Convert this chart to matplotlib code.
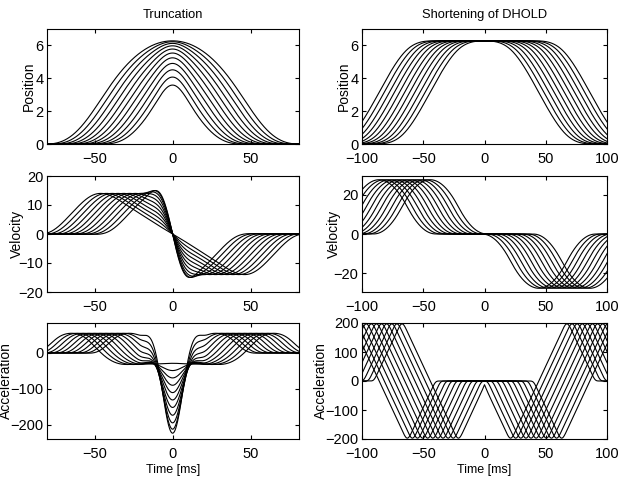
import numpy as np
import matplotlib
matplotlib.use("Agg")
import matplotlib.pyplot as plt

plt.rcParams['font.family'] = ['Liberation Sans', 'DejaVu Sans']

# ---- Truncation (left column) ----
# acceleration template of one movement, knots (ms, value)
trunc_acc_knots_t = [0, 8, 27, 33, 38, 44, 78, 86]
trunc_acc_knots_a = [0, 50, 50, 0, 0, -32, -32, 0]
# start of each movement (ms); movement is cut at t = 0 and mirrored
trunc_starts = [-82.0, -78.3, -74.6, -70.9, -67.2, -63.5, -59.8, -56.1, -52.4, -48.7, -45.0]
trunc_vel_peak = 14.0
trunc_pos_peak = 6.28
lanczos_T = 11.5

# ---- Shortening of DHOLD (right column) ----
dhold_acc_knots_t = [0, 22, 24, 68, 70, 92]
dhold_acc_knots_a = [0, 200, 200, -200, -200, 0]
dhold_ms = [80.0, 71.7, 63.3, 55.0, 46.7, 38.3, 30.0, 21.7, 13.3, 5.0, -3.4]
dhold_vel_peak = 27.7
dhold_pos_peak = 6.28

dt = 0.1
t = np.arange(-150, 150 + dt / 2, dt)
n0 = len(t) // 2  # index of t = 0


def mirror_odd(v):
    out = v.copy()
    out[n0 + 1:] = -v[:n0][::-1]
    out[n0] = 0.0
    return out


def mirror_even(a):
    out = a.copy()
    out[n0 + 1:] = a[:n0][::-1]
    return out


def truncation_curves():
    tk = np.arange(-2 * lanczos_T, 2 * lanczos_T + dt / 2, dt)
    kern = np.sinc(tk / lanczos_T) * np.sinc(tk / (2 * lanczos_T))
    kern /= kern.sum()
    vel, acc, pos = [], [], []
    for s in trunc_starts:
        a = np.interp(t - s, trunc_acc_knots_t, trunc_acc_knots_a, left=0, right=0)
        a[t >= 0] = 0
        v = np.cumsum(a) * dt
        v[t >= 0] = 0
        v = mirror_odd(v)
        v = np.convolve(v, kern, mode='same')
        acc.append(np.gradient(v, dt))
        vel.append(v)
        pos.append(np.cumsum(v) * dt)
    vs = trunc_vel_peak / np.max(vel[0])
    ps = trunc_pos_peak / np.max(pos[0])
    return [v * vs for v in vel], acc, [p * ps for p in pos]


def dhold_curves():
    tk = np.arange(-5, 5 + dt / 2, dt)
    kern = np.exp(-0.5 * (tk / 1.3) ** 2)
    kern /= kern.sum()
    vel, acc, pos = [], [], []
    for h in dhold_ms:
        start = -h / 2 - dhold_acc_knots_t[-1]
        a = np.interp(t - start, dhold_acc_knots_t, dhold_acc_knots_a, left=0, right=0)
        a[t >= 0] = 0
        a = np.convolve(a, kern, mode='same')
        v = np.cumsum(a) * dt
        a = mirror_even(a)
        v = mirror_odd(v)
        acc.append(a)
        vel.append(v)
        pos.append(np.cumsum(v) * dt)
    vs = dhold_vel_peak / np.max(vel[0])
    ps = dhold_pos_peak / np.max(pos[0])
    return [v * vs for v in vel], acc, [p * ps for p in pos]


tv, ta, tp = truncation_curves()
dv, da, dp = dhold_curves()

fig = plt.figure(figsize=(6.18, 4.79), dpi=100)
W, H = 618.0, 479.0
cols = [(47, 299), (362, 607)]
rows = [(29, 144), (176, 292), (323, 439)]


def make_ax(c, r):
    x0, x1 = cols[c]
    y0, y1 = rows[r]
    ax = fig.add_axes([x0 / W, 1 - y1 / H, (x1 - x0) / W, (y1 - y0) / H])
    ax.tick_params(direction='in', top=True, right=True, length=3, width=0.8,
                   labelsize=10.5)
    ax.tick_params(axis='x', pad=5.5)
    ax.tick_params(axis='y', pad=2.5)
    for sp in ax.spines.values():
        sp.set_linewidth(0.8)
    return ax


lw = 0.8
axes = [[make_ax(c, r) for c in range(2)] for r in range(3)]

left_sets = [tp, tv, ta]
right_sets = [dp, dv, da]
for r in range(3):
    for y in left_sets[r]:
        axes[r][0].plot(t, y, color='black', lw=lw)
    for y in right_sets[r]:
        axes[r][1].plot(t, y, color='black', lw=lw)

for r in range(3):
    axes[r][0].set_xlim(-80.5, 81)
    axes[r][0].set_xticks([-50, 0, 50])
    axes[r][1].set_xlim(-100, 100)
    axes[r][1].set_xticks([-100, -50, 0, 50, 100])

axes[0][0].set_ylim(0, 7)
axes[0][1].set_ylim(0, 7)
axes[0][0].set_yticks([0, 2, 4, 6])
axes[0][1].set_yticks([0, 2, 4, 6])
axes[1][0].set_ylim(-20, 20)
axes[1][0].set_yticks([-20, -10, 0, 10, 20])
axes[1][1].set_ylim(-29.6, 29.6)
axes[1][1].set_yticks([-20, 0, 20])
axes[2][0].set_ylim(-240, 82)
axes[2][0].set_yticks([-200, -100, 0])
axes[2][1].set_ylim(-200, 200)
axes[2][1].set_yticks([-200, -100, 0, 100, 200])

axes[0][0].set_title('Truncation', fontsize=9.3, pad=8)
axes[0][1].set_title('Shortening of DHOLD', fontsize=9.3, pad=8)

labels = ['Position', 'Velocity', 'Acceleration']
lab_x = [(-0.045, -0.045), (-0.09, -0.085), (-0.135, -0.14)]
for r in range(3):
    for c in range(2):
        ax = axes[r][c]
        ax.set_ylabel(labels[r], fontsize=10)
        ax.yaxis.set_label_coords(lab_x[r][c], 0.5)
for c in range(2):
    axes[2][c].set_xlabel('Time [ms]', fontsize=9)
    axes[2][c].xaxis.set_label_coords(0.5, -0.215)

fig.savefig('out.png', dpi=100)
